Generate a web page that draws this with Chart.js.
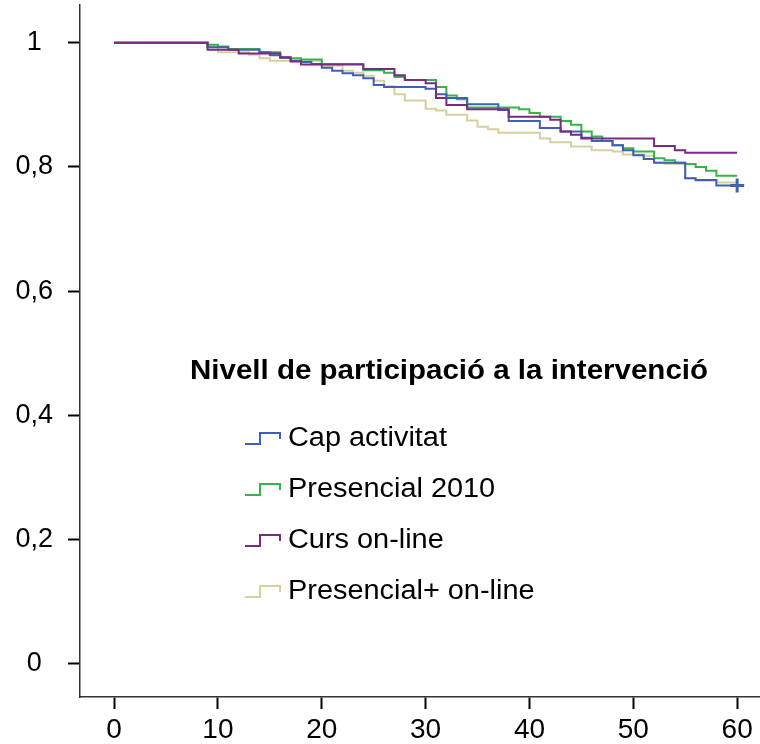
<!DOCTYPE html>
<html>
<head>
<meta charset="utf-8">
<script src="https://cdn.jsdelivr.net/npm/chart.js@4.4.0/dist/chart.umd.min.js"></script>
<style>
  body { margin: 0; background: #fff; }
  #wrap { width: 760px; height: 744px; }
</style>
</head>
<body>
<div id="wrap"><canvas id="survivalChart"></canvas></div>
<script>
// temps (x) i supervivencia (y) per grup
const blueT = [0, 9, 11, 14, 15, 16, 17, 18, 19, 20, 21, 22, 23, 24, 25, 26, 30, 31, 32, 34, 37, 38, 41, 43, 45, 46, 48, 49, 50, 51, 52, 55, 56, 58, 60]
const blueS = [1, 0.993, 0.989, 0.985, 0.980, 0.976, 0.971, 0.969, 0.966, 0.960, 0.955, 0.951, 0.948, 0.943, 0.932, 0.929, 0.926, 0.917, 0.911, 0.901, 0.892, 0.874, 0.863, 0.857, 0.847, 0.842, 0.835, 0.827, 0.819, 0.813, 0.807, 0.782, 0.779, 0.770, 0.770]

const greenT = [0, 9, 10, 11, 14, 16, 17, 18, 20, 24, 26, 27, 28, 31, 32, 33, 34, 39, 40, 41, 43, 44, 45, 46, 47, 48, 49, 50, 52, 53, 54, 55, 56, 57, 58, 60]
const greenS = [1, 0.997, 0.994, 0.990, 0.985, 0.976, 0.975, 0.973, 0.966, 0.956, 0.952, 0.945, 0.940, 0.929, 0.915, 0.909, 0.896, 0.893, 0.887, 0.881, 0.874, 0.868, 0.857, 0.849, 0.842, 0.835, 0.830, 0.825, 0.814, 0.811, 0.807, 0.805, 0.800, 0.794, 0.786, 0.786]

const purpleT = [0, 9, 12, 16, 17, 18, 24, 27, 28, 30, 31, 32, 34, 38, 42, 43, 44, 45, 52, 54, 55, 60]
const purpleS = [1, 0.989, 0.983, 0.977, 0.970, 0.965, 0.958, 0.948, 0.940, 0.935, 0.911, 0.900, 0.893, 0.881, 0.876, 0.857, 0.852, 0.846, 0.834, 0.827, 0.823, 0.823]

const yellowT = [0, 9, 10, 13, 14, 15, 20, 22, 23, 24, 25, 26, 27, 28, 30, 31, 32, 34, 35, 36, 37, 41, 42, 44, 46, 48, 49, 51, 52, 53, 55, 56, 58, 60]
const yellowS = [1, 0.994, 0.985, 0.981, 0.975, 0.971, 0.963, 0.955, 0.952, 0.947, 0.939, 0.930, 0.917, 0.907, 0.894, 0.891, 0.884, 0.875, 0.865, 0.861, 0.855, 0.846, 0.840, 0.833, 0.827, 0.825, 0.820, 0.818, 0.807, 0.805, 0.782, 0.778, 0.775, 0.775]

const groupNames = ['Cap activitat', 'Presencial 2010', 'Curs on-line', 'Presencial+ on-line']
const legendTitle = 'Nivell de participació a la intervenció'
const xTicks = [0, 10, 20, 30, 40, 50, 60]
const yTicks = [0, 0.2, 0.4, 0.6, 0.8, 1]

const colors = ['#4060b5', '#34b547', '#7a2a80', '#d6d19c']

function toPoints(t, s) {
  return t.map((v, i) => ({ x: v, y: s[i] }))
}

// text una mica eixamplat, com a l'original
function wideText(ctx, text, x, y, sx) {
  ctx.save()
  ctx.translate(x, y)
  ctx.scale(sx, 1)
  ctx.fillText(text, 0, 0)
  ctx.restore()
}

// LLEGENDA DINS L'AREA
const legendPlugin = {
  id: 'stepLegend',
  afterDraw(chart) {
    const ctx = chart.ctx
    ctx.save()
    ctx.fillStyle = '#000'
    ctx.textBaseline = 'middle'
    ctx.textAlign = 'center'
    ctx.font = 'bold 27px "Liberation Sans", Arial, sans-serif'
    const tw = ctx.measureText(legendTitle).width
    wideText(ctx, legendTitle, 449, 372, 518 / tw)

    ctx.font = '27px "Liberation Sans", Arial, sans-serif'
    ctx.textAlign = 'left'
    groupNames.forEach((name, i) => {
      const y = 438 + i * 51
      ctx.strokeStyle = colors[i]
      ctx.lineWidth = 2
      ctx.beginPath()
      ctx.moveTo(245, y + 6)
      ctx.lineTo(260, y + 6)
      ctx.lineTo(260, y - 5)
      ctx.lineTo(280, y - 5)
      ctx.lineTo(280, y + 1)
      ctx.stroke()
      wideText(ctx, name, 288, y + 1, 1.07)
    })
    ctx.restore()
  }
}

const blueData = toPoints(blueT, blueS)

new Chart(document.getElementById('survivalChart'), {
  type: 'line',
  data: {
    datasets: [
      {
        label: groupNames[0],
        data: blueData,
        borderColor: colors[0],
        backgroundColor: colors[0],
        stepped: 'before',
        borderWidth: 2,
        pointStyle: 'cross',
        pointRadius: c => (c.dataIndex === blueData.length - 1 ? 7 : 0),
        pointBorderWidth: 3,
        order: 1
      },
      {
        label: groupNames[1],
        data: toPoints(greenT, greenS),
        borderColor: colors[1],
        stepped: 'before',
        borderWidth: 2,
        pointRadius: 0,
        order: 2
      },
      {
        label: groupNames[2],
        data: toPoints(purpleT, purpleS),
        borderColor: colors[2],
        stepped: 'before',
        borderWidth: 2,
        pointRadius: 0,
        order: 0
      },
      {
        label: groupNames[3],
        data: toPoints(yellowT, yellowS),
        borderColor: colors[3],
        stepped: 'before',
        borderWidth: 2,
        pointRadius: 0,
        order: 3
      }
    ]
  },
  options: {
    responsive: true,
    maintainAspectRatio: false,
    animation: false,
    layout: { autoPadding: false, padding: { top: 5, right: 0, left: 0, bottom: 0 } },
    plugins: {
      legend: { display: false },
      tooltip: { enabled: false }
    },
    scales: {
      x: {
        type: 'linear',
        min: -3.28,
        max: 62.2,
        afterBuildTicks: s => { s.ticks = xTicks.map(v => ({ value: v })) },
        afterFit: s => {
          s.height = 47
          s.paddingLeft = 0
          s.paddingRight = 0
        },
        border: { display: true, color: '#333', width: 1.5 },
        grid: { display: true, drawOnChartArea: false, drawTicks: true, tickLength: 12, tickColor: '#000', tickWidth: 2 },
        ticks: {
          color: '#000',
          padding: 4,
          maxRotation: 0,
          font: { family: '"Liberation Sans", Arial, sans-serif', size: 28 }
        }
      },
      y: {
        type: 'linear',
        min: -0.054,
        max: 1.061,
        afterBuildTicks: s => { s.ticks = yTicks.map(v => ({ value: v })) },
        afterFit: s => {
          s.width = 80
          s.paddingTop = 0
          s.paddingBottom = 0
        },
        border: { display: true, color: '#333', width: 1.5 },
        grid: { display: true, drawOnChartArea: false, drawTicks: true, tickLength: 12, tickColor: '#000', tickWidth: 2 },
        ticks: {
          color: '#000',
          padding: 15,
          crossAlign: 'center',
          font: { family: '"Liberation Sans", Arial, sans-serif', size: 27 },
          callback: v => String(Math.round(v * 10) / 10).replace('.', ',')
        }
      }
    }
  },
  plugins: [legendPlugin]
})
</script>
</body>
</html>
